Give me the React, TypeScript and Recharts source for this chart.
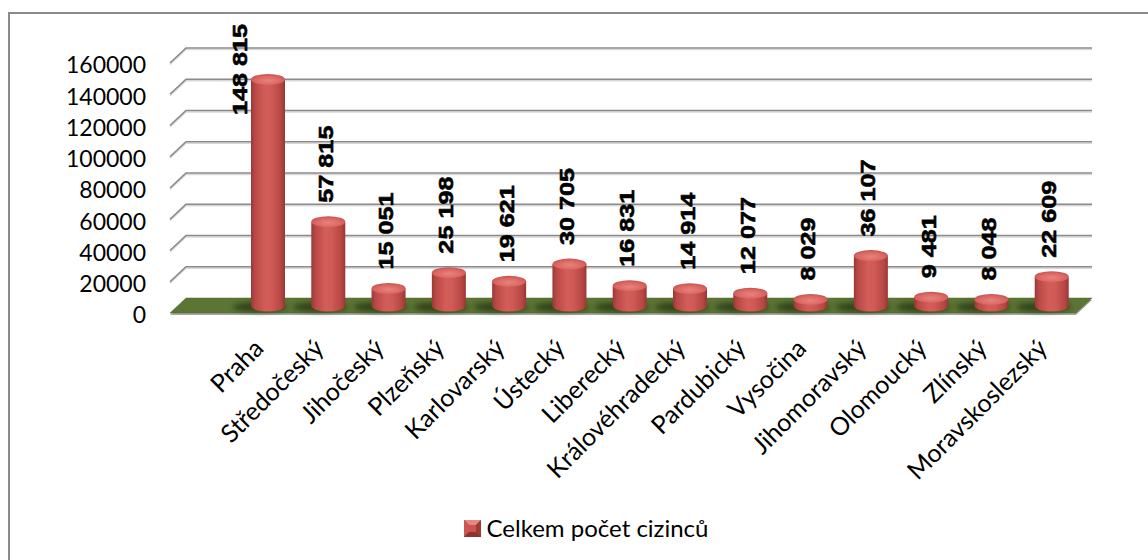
import React from 'react';
import { BarChart, Bar, XAxis, YAxis, CartesianGrid, LabelList, Legend } from 'recharts';

const categories = [
  'Praha', 'Středočeský', 'Jihočeský', 'Plzeňský', 'Karlovarský', 'Ústecký', 'Liberecký',
  'Královéhradecký', 'Pardubický', 'Vysočina', 'Jihomoravský', 'Olomoucký', 'Zlínský', 'Moravskoslezský',
];
const values = [148815, 57815, 15051, 25198, 19621, 30705, 16831, 14914, 12077, 8029, 36107, 9481, 8048, 22609];
const yTicks = [0, 20000, 40000, 60000, 80000, 100000, 120000, 140000, 160000];
const seriesName = 'Celkem počet cizinců';

const data = categories.map((name, i) => ({ name, value: values[i] }));

const W = 1148;
const H = 560;
const MARGIN = { top: 63, right: 56, bottom: 17, left: 90 };
const YAXIS_W = 80;
const XAXIS_H = 200;
const LEGEND_H = 30;
const PLOT_LEFT = MARGIN.left + YAXIS_W;
const PLOT_RIGHT = W - MARGIN.right;
const PLOT_BOTTOM = H - MARGIN.bottom - LEGEND_H - XAXIS_H;
const DX = 16;
const DY = 15;

const fmt = (v: number) => String(v).replace(/\B(?=(\d{3})+(?!\d))/g, ' ');

const GridLine = (props: any) => {
  const { y1 } = props;
  const isFloor = Math.abs(y1 - PLOT_BOTTOM) < 1;
  if (isFloor) {
    const fl = PLOT_LEFT;
    const fr = PLOT_RIGHT - DX;
    return (
      <g>
        <polygon
          points={`${fl},${y1 + 2} ${fl + DX},${y1 - DY + 2} ${PLOT_RIGHT},${y1 - DY + 2} ${fr},${y1 + 2}`}
          fill="#a6a6a6"
        />
        <polygon
          points={`${fl},${y1} ${fl + DX},${y1 - DY} ${PLOT_RIGHT},${y1 - DY} ${fr},${y1}`}
          fill="#5c7434"
          stroke="#52692b"
          strokeWidth={0.5}
        />
      </g>
    );
  }
  return (
    <g>
      <polyline
        points={`${PLOT_LEFT},${y1} ${PLOT_LEFT + DX},${y1 - DY} ${PLOT_RIGHT},${y1 - DY}`}
        fill="none"
        stroke="#d9d9d9"
        strokeWidth={1.5}
        transform="translate(0,1.5)"
      />
      <polyline
        points={`${PLOT_LEFT},${y1} ${PLOT_LEFT + DX},${y1 - DY} ${PLOT_RIGHT},${y1 - DY}`}
        fill="none"
        stroke="#8a8a8a"
        strokeWidth={1.7}
      />
    </g>
  );
};

const Cylinder = (props: any) => {
  const { x, y, width, height, index } = props;
  if (!width || height == null) return null;
  const rx = width / 2;
  const ry = 5.5;
  const cx = x + rx;
  const topY = y - 1;
  const baseY = y + height - 7;
  const bodyId = `cylBody${index}`;
  const topId = `cylTop${index}`;
  const blurId = `cylBlur${index}`;
  return (
    <g>
      <defs>
        <linearGradient id={bodyId} x1="0" y1="0" x2="1" y2="0">
          <stop offset="0" stopColor="#9a3835" />
          <stop offset="0.12" stopColor="#b94946" />
          <stop offset="0.42" stopColor="#d35d59" />
          <stop offset="0.6" stopColor="#d05a56" />
          <stop offset="0.88" stopColor="#b64744" />
          <stop offset="1" stopColor="#983633" />
        </linearGradient>
        <radialGradient id={topId} cx="0.5" cy="0.6" r="0.6">
          <stop offset="0" stopColor="#e8837e" />
          <stop offset="0.7" stopColor="#d9645f" />
          <stop offset="1" stopColor="#c4504c" />
        </radialGradient>
        <filter id={blurId} x="-50%" y="-200%" width="200%" height="500%">
          <feGaussianBlur stdDeviation="2.5" />
        </filter>
      </defs>
      <ellipse cx={cx - 8} cy={baseY + 1} rx={rx + 10} ry={5} fill="#1f2b0b" opacity={0.65} filter={`url(#${blurId})`} />
      <path
        d={`M${x},${topY} L${x},${baseY} A${rx},${ry} 0 0 0 ${x + width},${baseY} L${x + width},${topY} Z`}
        fill={`url(#${bodyId})`}
      />
      <ellipse cx={cx} cy={topY} rx={rx} ry={ry} fill={`url(#${topId})`} />
    </g>
  );
};

const LABEL_FS = 21;
const LABEL_STRETCH = 1.2;

const DataLabel = (props: any) => {
  const { x, y, width, value } = props;
  if (value == null) return null;
  const text = fmt(value);
  let len = 0;
  for (const ch of text) len += ch === ' ' ? 0.278 : 0.556;
  len *= LABEL_FS * LABEL_STRETCH;
  const cx = x + width / 2;
  const bottom = y - 20;
  const topLimit = 24;
  const common = {
    fontFamily: '"Liberation Sans", Arial, sans-serif',
    fontWeight: 700,
    fontSize: LABEL_FS,
    fill: '#000',
    stroke: '#000',
    strokeWidth: 0.6,
  } as const;
  if (bottom - len < topLimit) {
    return (
      <text
        transform={`translate(${x - 4},${topLimit}) rotate(-90) scale(${LABEL_STRETCH},1)`}
        textAnchor="end"
        {...common}
      >
        {text}
      </text>
    );
  }
  return (
    <text
      transform={`translate(${cx + 4.5},${bottom}) rotate(-90) scale(${LABEL_STRETCH},1)`}
      textAnchor="start"
      {...common}
    >
      {text}
    </text>
  );
};

const YTick = (props: any) => {
  const { x, y, payload } = props;
  return (
    <text x={x - 24} y={y + 2} dy="0.36em" textAnchor="end" fontFamily="Lato, sans-serif" fontSize={23} fill="#000">
      {payload.value}
    </text>
  );
};

const XTick = (props: any) => {
  const { x, y, payload } = props;
  return (
    <text
      transform={`translate(${x - 3},${y + 37}) rotate(-45)`}
      textAnchor="end"
      fontFamily="Lato, sans-serif"
      fontSize={25}
      fill="#000"
    >
      {payload.value}
    </text>
  );
};

const LegendContent = () => (
  <div
    style={{
      height: LEGEND_H,
      display: 'flex',
      alignItems: 'center',
      justifyContent: 'center',
      paddingRight: 10,
      boxSizing: 'border-box',
    }}
  >
    <svg width={17} height={17} style={{ marginRight: 6 }}>
      <rect x={0} y={0} width={17} height={17} fill="#b84643" />
      <polygon points="0,0 17,0 12,5 5,5" fill="#e58883" />
      <polygon points="0,0 5,5 5,12 0,17" fill="#c95753" />
      <polygon points="17,0 12,5 12,12 17,17" fill="#9e3936" />
      <polygon points="0,17 5,12 12,12 17,17" fill="#8f3230" />
      <rect x={5} y={5} width={7} height={7} fill="#c9534f" />
    </svg>
    <span style={{ fontFamily: 'Lato, sans-serif', fontSize: 24, color: '#000', lineHeight: '30px' }}>{seriesName}</span>
  </div>
);

export default function App() {
  return (
    <div style={{ position: 'relative', width: W, height: H, overflow: 'hidden', background: '#fff' }}>
      <style>{'body{margin:0;}'}</style>
      <div
        style={{
          position: 'absolute',
          left: 8,
          top: 12,
          width: W,
          height: H,
          borderTop: '2px solid #8a8a8a',
          borderLeft: '2px solid #8a8a8a',
          boxSizing: 'border-box',
        }}
      />
      <div style={{ position: 'absolute', left: 0, top: 0 }}>
        <BarChart width={W} height={H} data={data} margin={MARGIN} barSize={34}>
          <CartesianGrid vertical={false} horizontal={(p: any) => <GridLine key={p.key ?? p.index} {...p} />} />
          <XAxis
            dataKey="name"
            axisLine={false}
            tickLine={false}
            tickSize={0}
            tickMargin={0}
            height={XAXIS_H}
            interval={0}
            padding={{ left: 68, right: 10 }}
            tick={<XTick />}
          />
          <YAxis
            domain={[0, 160000]}
            ticks={yTicks}
            interval={0}
            axisLine={false}
            tickLine={false}
            tickSize={0}
            tickMargin={0}
            width={YAXIS_W}
            tick={<YTick />}
          />
          <Legend verticalAlign="bottom" height={LEGEND_H} content={<LegendContent />} />
          <Bar dataKey="value" name={seriesName} isAnimationActive={false} shape={<Cylinder />}>
            <LabelList dataKey="value" content={<DataLabel />} />
          </Bar>
        </BarChart>
      </div>
    </div>
  );
}
